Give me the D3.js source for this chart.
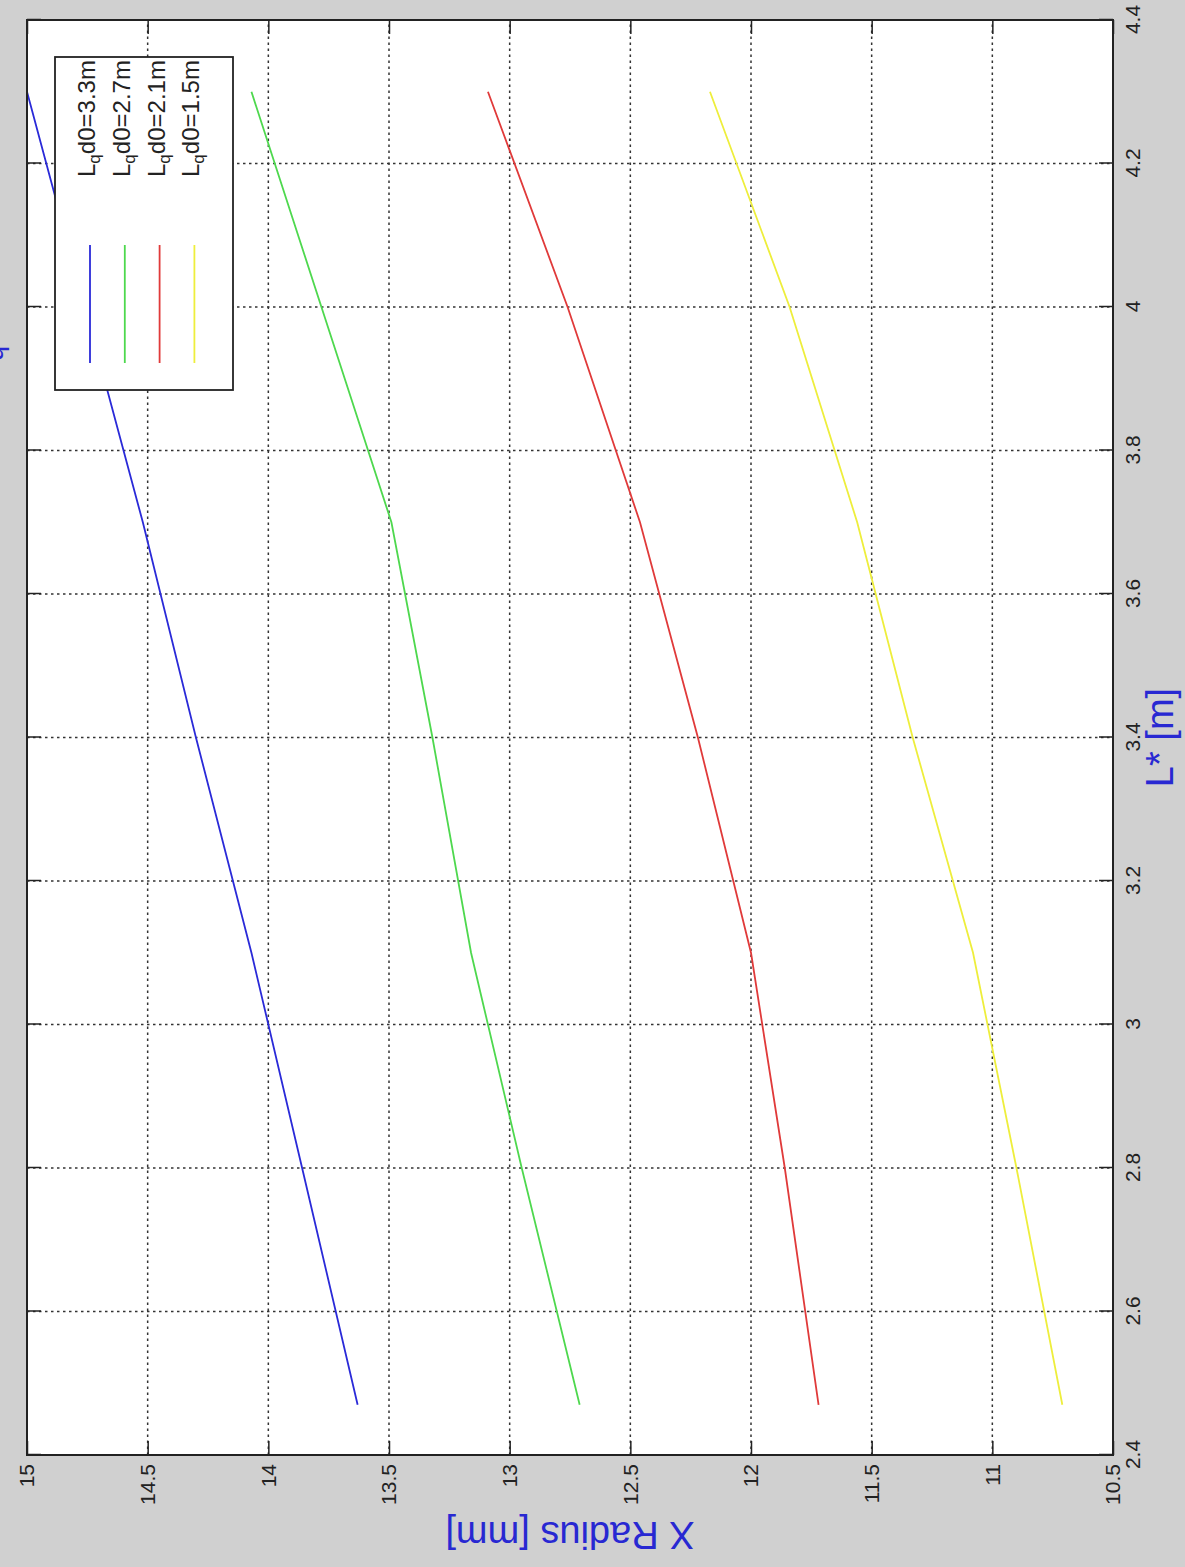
<!DOCTYPE html>
<html>
<head>
<meta charset="utf-8">
<script src="https://cdn.jsdelivr.net/npm/d3@7"></script>
<style>
  html, body { margin: 0; padding: 0; background: #d0d0d0; }
  svg { display: block; }
  text { font-family: "Liberation Sans", Arial, Helvetica, sans-serif; }
</style>
</head>
<body>
<svg id="chart" width="1185" height="1567"></svg>
<script>
// ---------------- data ----------------
const lstar     = [2.47, 2.8, 3.1, 3.4, 3.7, 4.0, 4.3];          // L* [m]
const radius33  = [13.63, 13.86, 14.07, 14.30, 14.52, 14.76, 15.00]; // Lq d0 = 3.3 m
const radius27  = [12.71, 12.95, 13.16, 13.32, 13.49, 13.78, 14.07]; // Lq d0 = 2.7 m
const radius21  = [11.72, 11.86, 12.00, 12.22, 12.46, 12.76, 13.09]; // Lq d0 = 2.1 m
const radius15  = [10.71, 10.90, 11.08, 11.33, 11.56, 11.84, 12.17]; // Lq d0 = 1.5 m
const seriesNames = ["d0=3.3m", "d0=2.7m", "d0=2.1m", "d0=1.5m"];
const seriesColors = ["#2a2ad8", "#4ed84e", "#e03a3a", "#eeee3c"];

const xTicks = [2.4, 2.6, 2.8, 3.0, 3.2, 3.4, 3.6, 3.8, 4.0, 4.2, 4.4];
const xTickLabels = ["2.4","2.6","2.8","3","3.2","3.4","3.6","3.8","4","4.2","4.4"];
const yTicks = [10.5, 11, 11.5, 12, 12.5, 13, 13.5, 14, 14.5, 15];
const yTickLabels = ["10.5","11","11.5","12","12.5","13","13.5","14","14.5","15"];

// ---------------- layout (figure drawn in its own orientation, then turned) ----------------
const W = 1567, H = 1185;
const plot = {left: 112, right: 1547, top: 27, bottom: 1113};
const labelBlue = "#2828d2";

const svg = d3.select("#chart");
svg.append("rect").attr("width", 1185).attr("height", 1567).attr("fill", "#d0d0d0");

const g = svg.append("g").attr("transform", `translate(0,${W}) rotate(-90)`);

const x = d3.scaleLinear().domain([2.4, 4.4]).range([plot.left, plot.right]);
const y = d3.scaleLinear().domain([10.5, 15]).range([plot.bottom, plot.top]);

// axes background
g.append("rect")
  .attr("x", plot.left).attr("y", plot.top)
  .attr("width", plot.right - plot.left).attr("height", plot.bottom - plot.top)
  .attr("fill", "#ffffff");

// grid
const grid = g.append("g").attr("stroke", "#333").attr("stroke-width", 1.5)
  .attr("stroke-dasharray", "2.5,3.5");
grid.selectAll("line.gx").data(xTicks.slice(1, -1)).join("line")
  .attr("x1", d => x(d)).attr("x2", d => x(d))
  .attr("y1", plot.top).attr("y2", plot.bottom);
grid.selectAll("line.gy").data(yTicks.slice(1, -1)).join("line")
  .attr("y1", d => y(d)).attr("y2", d => y(d))
  .attr("x1", plot.left).attr("x2", plot.right);

// lines
g.append("clipPath").attr("id", "clip").append("rect")
  .attr("x", plot.left).attr("y", plot.top)
  .attr("width", plot.right - plot.left).attr("height", plot.bottom - plot.top);

const allSeries = [radius33, radius27, radius21, radius15];
const lineGen = d3.line().x((d, i) => x(lstar[i])).y(d => y(d));
g.append("g").attr("clip-path", "url(#clip)")
  .selectAll("path").data(allSeries).join("path")
  .attr("d", d => lineGen(d))
  .attr("fill", "none")
  .attr("stroke", (d, i) => seriesColors[i])
  .attr("stroke-width", 1.8);

// axes with inward ticks
const tickLen = 14;
const axB = g.append("g").attr("transform", `translate(0,${plot.bottom})`)
  .call(d3.axisBottom(x).tickValues(xTicks).tickFormat((d, i) => xTickLabels[i])
        .tickSizeInner(-tickLen).tickSizeOuter(0).tickPadding(12));
const axL = g.append("g").attr("transform", `translate(${plot.left},0)`)
  .call(d3.axisLeft(y).tickValues(yTicks).tickFormat((d, i) => yTickLabels[i])
        .tickSizeInner(-tickLen).tickSizeOuter(0).tickPadding(9));
const axT = g.append("g").attr("transform", `translate(0,${plot.top})`)
  .call(d3.axisTop(x).tickValues(xTicks).tickFormat("")
        .tickSizeInner(-tickLen).tickSizeOuter(0));
const axR = g.append("g").attr("transform", `translate(${plot.right},0)`)
  .call(d3.axisRight(y).tickValues(yTicks).tickFormat("")
        .tickSizeInner(-tickLen).tickSizeOuter(0));
[axB, axL, axT, axR].forEach(a => {
  a.select(".domain").remove();
  a.selectAll("line").attr("stroke", "#222").attr("stroke-width", 1.5);
  a.selectAll("text").attr("fill", "#222").attr("font-size", 21)
   .attr("font-family", "\"Liberation Sans\", Arial, sans-serif");
});

// box
g.append("rect")
  .attr("x", plot.left).attr("y", plot.top)
  .attr("width", plot.right - plot.left).attr("height", plot.bottom - plot.top)
  .attr("fill", "none").attr("stroke", "#222").attr("stroke-width", 2);

// axis labels
g.append("text")
  .attr("transform", `translate(45,${(plot.top + plot.bottom) / 2}) rotate(-90)`)
  .attr("text-anchor", "middle").attr("font-size", 38).attr("fill", labelBlue)
  .text("X Radius [mm]");
g.append("text")
  .attr("x", (plot.left + plot.right) / 2).attr("y", 1173)
  .attr("text-anchor", "middle").attr("font-size", 38).attr("fill", labelBlue)
  .text("L* [m]");

// title (mostly outside the picture, only the subscript shows)
const title = g.append("text").attr("y", -6).attr("font-size", 38).attr("fill", labelBlue);
const tPre = title.append("tspan").text("X Radius vs. L* for different L");
title.append("tspan").attr("dy", 9).attr("font-size", 27).text("q");
title.append("tspan").attr("dy", -9).text("d0");
title.attr("x", 1206 - tPre.node().getComputedTextLength());

// legend
const leg = {x: 1177, y: 55, w: 333, h: 178};
const lg = g.append("g");
lg.append("rect").attr("x", leg.x).attr("y", leg.y).attr("width", leg.w).attr("height", leg.h)
  .attr("fill", "#fff").attr("stroke", "#222").attr("stroke-width", 1.8);
const rowY = i => 90 + i * 34.8;
seriesNames.forEach((name, i) => {
  lg.append("line")
    .attr("x1", 1204).attr("x2", 1322).attr("y1", rowY(i)).attr("y2", rowY(i))
    .attr("stroke", seriesColors[i]).attr("stroke-width", 1.8);
  const t = lg.append("text").attr("x", 1390).attr("y", rowY(i) + 5)
    .attr("font-size", 24).attr("fill", "#222");
  t.append("tspan").text("L");
  t.append("tspan").attr("dy", 5).attr("font-size", 17).text("q");
  t.append("tspan").attr("dy", -5).text(name);
});
</script>
</body>
</html>
